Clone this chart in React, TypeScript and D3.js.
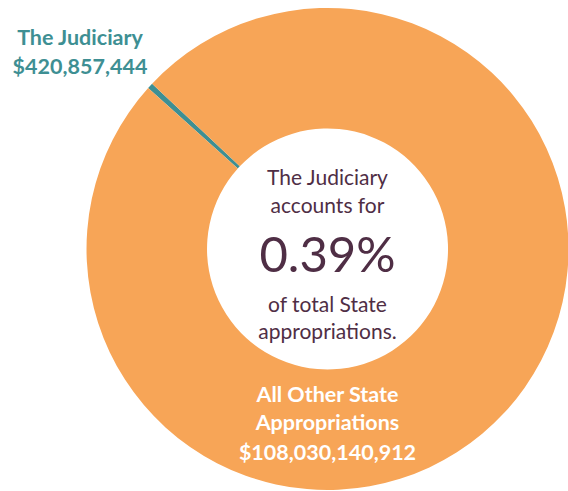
import * as d3 from "d3";
import React, { useEffect, useRef } from "react";

// slices of the state budget
const categories = ["The Judiciary", "All Other State Appropriations"];
const amounts = [420857444, 108030140912];
const colors = ["#3E8F93", "#F7A557"];

// center message
const centerLines = ["The Judiciary", "accounts for"];
const centerPct = "0.39%";
const centerTail = ["of total State", "appropriations."];

const App: React.FC = () => {
  const ref = useRef<SVGSVGElement>(null);

  useEffect(() => {
    if (!ref.current) return;
    const svg = d3.select(ref.current);
    svg.selectAll("*").remove();

    const width = 568,
      height = 491;
    const cx = 327.5,
      cy = 249,
      outer = 241,
      inner = 120.5;
    const font = "Lato, 'Open Sans', sans-serif";

    const total = d3.sum(amounts);
    const judAngle = (-47.4 * Math.PI) / 180;
    const half = (amounts[0] / total) * Math.PI;

    const pie = d3
      .pie<number>()
      .sort(null)
      .startAngle(judAngle - half)
      .endAngle(judAngle - half + 2 * Math.PI);
    const arc = d3.arc<d3.PieArcDatum<number>>().innerRadius(inner).outerRadius(outer);

    const g = svg.append("g").attr("transform", `translate(${cx},${cy})`);

    g.selectAll("path")
      .data(pie(amounts))
      .enter()
      .append("path")
      .attr("d", arc)
      .attr("fill", (_, i) => colors[i]);

    const fmt = d3.format("$,");

    // Judiciary callout (outside, upper left)
    const jud = svg
      .append("text")
      .attr("text-anchor", "middle")
      .style("font-family", font)
      .style("font-weight", "bold")
      .style("font-size", "21.5px")
      .style("fill", colors[0]);
    jud.append("tspan").attr("x", 80).attr("y", 45).text(categories[0]);
    jud.append("tspan").attr("x", 80).attr("y", 74).text(fmt(amounts[0]));

    // other appropriations label inside the ring
    const other = svg
      .append("text")
      .attr("text-anchor", "middle")
      .style("font-family", font)
      .style("font-weight", "bold")
      .style("font-size", "21.5px")
      .style("fill", "#ffffff");
    const words = categories[1].split(" ");
    other.append("tspan").attr("x", cx).attr("y", 402).text(words.slice(0, 3).join(" "));
    other.append("tspan").attr("x", cx).attr("y", 430).text(words.slice(3).join(" "));
    other.append("tspan").attr("x", cx).attr("y", 460).text(fmt(amounts[1]));

    // center message
    const mid = svg
      .append("text")
      .attr("text-anchor", "middle")
      .style("font-family", font)
      .style("fill", "#4F2E45");
    mid.append("tspan").attr("x", cx).attr("y", 185).style("font-size", "21px").text(centerLines[0]);
    mid.append("tspan").attr("x", cx).attr("y", 213).style("font-size", "21px").text(centerLines[1]);
    mid.append("tspan").attr("x", cx).attr("y", 272).style("font-size", "49px").text(centerPct);
    mid.append("tspan").attr("x", cx).attr("y", 312).style("font-size", "21px").text(centerTail[0]);
    mid.append("tspan").attr("x", cx).attr("y", 339).style("font-size", "21px").text(centerTail[1]);

    svg.attr("width", width).attr("height", height);
  }, []);

  return (
    <div style={{ position: "absolute", left: 0, top: 0 }}>
      <svg ref={ref} width={568} height={491} style={{ display: "block" }} />
    </div>
  );
};

export default App;
